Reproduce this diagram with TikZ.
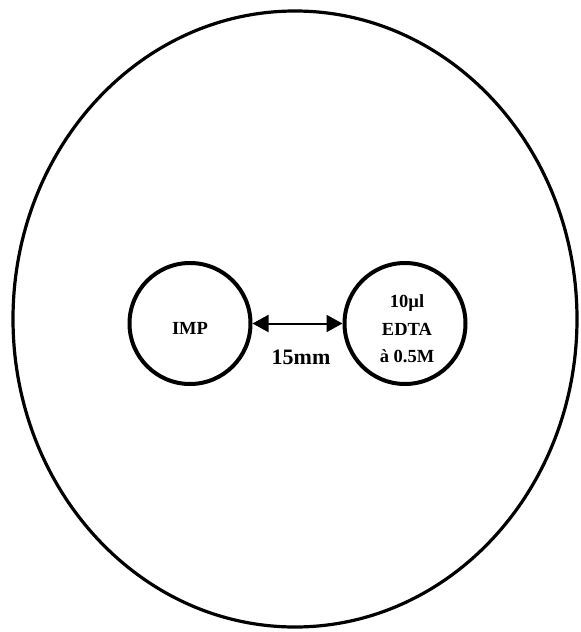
\documentclass[tikz,border=0pt]{standalone}
\usepackage{fontspec}
\setmainfont{Liberation Serif}
\usetikzlibrary{arrows.meta}
\begin{document}
\begin{tikzpicture}[x=1pt,y=-1pt,
  well/.style={draw,line width=4pt,circle,minimum size=121pt,inner sep=0pt},
  lbl/.style={font=\bfseries\fontsize{18.5}{27.5}\selectfont,align=center,inner sep=0pt}]
\useasboundingbox (0,0) rectangle (581,632);
\draw[line width=3.2pt] (295,319) ellipse [x radius=282, y radius=308];
\node[well] (imp) at (190,323.5) {};
\node[well] (edta) at (405,323.5) {};
\node[lbl,anchor=base] (impt) at (190,334) {IMP};
\node[lbl] (edtat) at (407,329) {10µl\\EDTA\\à 0.5M};
\draw[line width=2pt,{Triangle[length=16pt,width=17pt]}-{Triangle[length=16pt,width=17pt]}] (imp.east) -- (edta.west);
\node[lbl,anchor=base,font=\bfseries\fontsize{22}{26}\selectfont] (d) at (301,364) {15mm};
\end{tikzpicture}
\end{document}
